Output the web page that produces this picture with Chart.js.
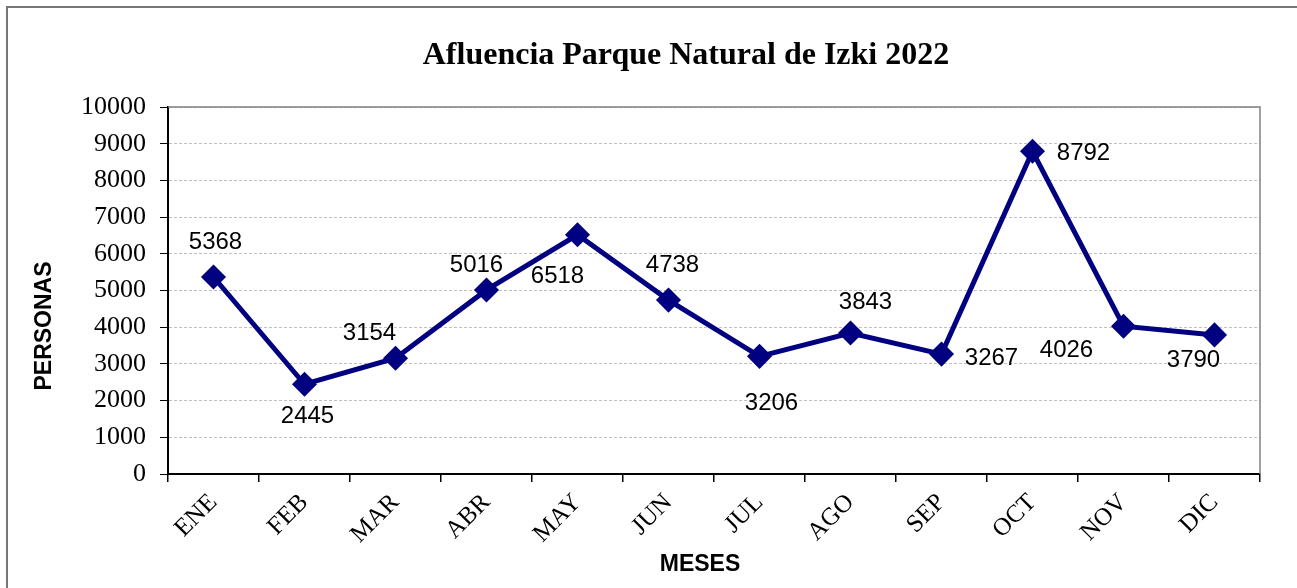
<!DOCTYPE html>
<html>
<head>
<meta charset="utf-8">
<script src="https://cdn.jsdelivr.net/npm/chart.js@4/dist/chart.umd.min.js"></script>
<style>
  html, body { margin: 0; padding: 0; background: #fff; overflow: hidden; }
  #wrap { position: relative; width: 1297px; height: 588px; }
  #frame { position: absolute; left: 6px; top: 6px; width: 1300px; height: 600px; border: 2px solid #777; box-sizing: border-box; }
  canvas { position: absolute; left: 0; top: 0; }
</style>
</head>
<body>
<div id="wrap">
  <div id="frame"></div>
  <canvas id="chart" width="1297" height="588"></canvas>
</div>
<script>
// Data
const months = ['ENE', 'FEB', 'MAR', 'ABR', 'MAY', 'JUN', 'JUL', 'AGO', 'SEP', 'OCT', 'NOV', 'DIC'];
const visitors = [5368, 2445, 3154, 5016, 6518, 4738, 3206, 3843, 3267, 8792, 4026, 3790];
const yTicks = [0, 1000, 2000, 3000, 4000, 5000, 6000, 7000, 8000, 9000, 10000];

const chartTitle = 'Afluencia Parque Natural de Izki 2022';
const xTitle = 'MESES';
const yTitle = 'PERSONAS';

// where each value label sits relative to its point (px)
const labelShift = [
  [2, -35], [3, 32], [-26, -25], [-10, -25], [-20, 42], [4, -35],
  [12, 47], [15, -31], [50, 4], [51, 2], [-57, 24], [-21, 25]
];

const navy = '#000080';
const serif = '"Liberation Serif", "Times New Roman", serif';
const sans = '"Liberation Sans", Arial, sans-serif';

// titles, value labels and plot frame
const extras = {
  id: 'extras',
  beforeDatasetsDraw(chart) {
    const { ctx, chartArea: a } = chart;
    ctx.save();
    ctx.strokeStyle = '#808080';
    ctx.lineWidth = 1.5;
    ctx.beginPath();
    ctx.moveTo(a.left, a.top);
    ctx.lineTo(a.right, a.top);
    ctx.lineTo(a.right, a.bottom);
    ctx.stroke();
    ctx.restore();
  },
  afterDatasetsDraw(chart) {
    const { ctx } = chart;
    const pts = chart.getDatasetMeta(0).data;
    ctx.save();
    ctx.font = '24px ' + sans;
    ctx.fillStyle = '#000';
    ctx.textAlign = 'center';
    ctx.textBaseline = 'middle';
    pts.forEach((p, i) => {
      ctx.fillText(String(visitors[i]), p.x + labelShift[i][0], p.y + labelShift[i][1]);
    });
    ctx.restore();
  },
  afterDraw(chart) {
    const { ctx } = chart;
    ctx.save();
    ctx.fillStyle = '#000';
    ctx.textAlign = 'center';
    ctx.textBaseline = 'middle';
    ctx.font = 'bold 32px ' + serif;
    ctx.fillText(chartTitle, 686, 56);
    ctx.font = 'bold 23px ' + sans;
    ctx.fillText(xTitle, 700, 565);
    ctx.translate(45, 326);
    ctx.rotate(-Math.PI / 2);
    ctx.fillText(yTitle, 0, 0);
    ctx.restore();
  }
};

new Chart(document.getElementById('chart').getContext('2d'), {
  type: 'line',
  data: {
    labels: months,
    datasets: [{
      data: visitors,
      borderColor: navy,
      backgroundColor: navy,
      borderWidth: 5,
      pointStyle: 'rectRot',
      pointRadius: 9,
      pointHoverRadius: 9,
      tension: 0
    }]
  },
  options: {
    responsive: false,
    animation: false,
    layout: { padding: { left: 24, right: 37, top: 107, bottom: 8 } },
    plugins: {
      legend: { display: false },
      tooltip: { enabled: false },
      title: { display: false }
    },
    scales: {
      x: {
        offset: true,
        afterFit(axis) { axis.height = 106; },
        grid: { display: true, drawOnChartArea: false, offset: true, tickLength: 8, color: '#000', lineWidth: 1.5 },
        border: { color: '#000', width: 2 },
        ticks: {
          color: '#000',
          maxRotation: 45,
          minRotation: 45,
          padding: 6,
          font: { family: serif, size: 25 }
        }
      },
      y: {
        min: 0,
        max: 10000,
        afterFit(axis) { axis.width = 144; },
        afterBuildTicks(axis) { axis.ticks = yTicks.map(v => ({ value: v })); },
        grid: {
          color: '#c0c0c0',
          lineWidth: 1,
          tickLength: 8,
          tickColor: '#000',
          tickBorderDash: []
        },
        border: { color: '#000', width: 2, dash: [3, 2] },
        ticks: {
          color: '#000',
          padding: 14,
          callback: v => String(v),
          font: { family: serif, size: 26 }
        }
      }
    }
  },
  plugins: [extras]
});
</script>
</body>
</html>
